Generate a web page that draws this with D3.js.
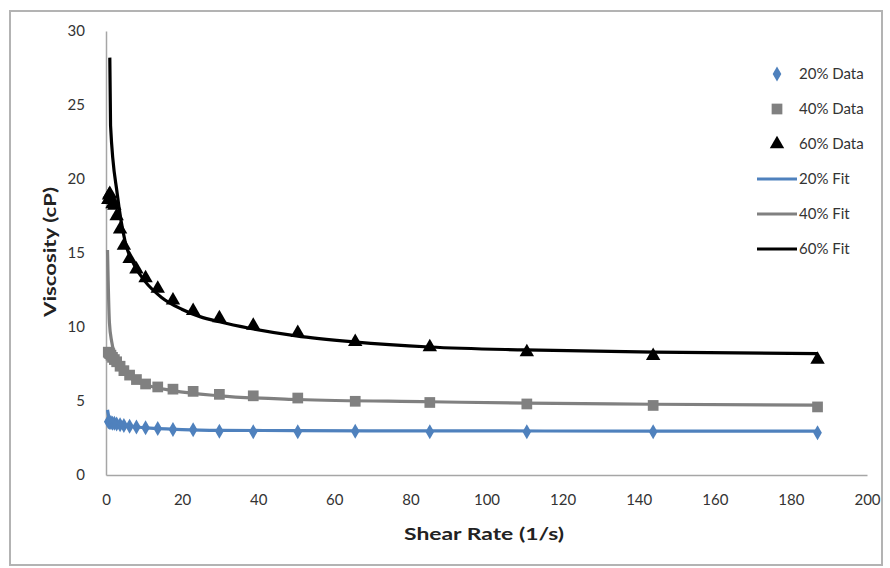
<!DOCTYPE html>
<html><head><meta charset="utf-8">
<script src="https://cdn.jsdelivr.net/npm/d3@7/dist/d3.min.js"></script>
<style>body{margin:0;background:#fff;} svg{display:block;}</style>
</head><body>
<svg id="chart" width="890" height="568"></svg>
<script>
// Shear rate (1/s) for measured data
const shear = [0.6, 0.8, 1.0, 1.3, 1.7, 2.2, 2.8, 3.7, 4.7, 6.2, 8.0, 10.4, 13.6, 17.6, 22.9, 29.8, 38.7, 50.4, 65.5, 85.1, 110.6, 143.8, 187];
const data20 = [3.6, 3.6, 3.55, 3.55, 3.5, 3.5, 3.45, 3.4, 3.35, 3.3, 3.25, 3.2, 3.15, 3.08, 3.05, 2.95, 2.93, 2.93, 2.95, 2.93, 2.93, 2.92, 2.85];
const data40 = [8.3, 8.25, 8.2, 8.1, 7.95, 7.8, 7.65, 7.35, 7.05, 6.75, 6.45, 6.15, 5.95, 5.8, 5.65, 5.45, 5.35, 5.2, 4.98, 4.9, 4.8, 4.7, 4.6];
const data60 = [18.6, 18.9, 19.0, 18.7, 18.3, 18.2, 17.5, 16.6, 15.5, 14.6, 13.9, 13.3, 12.6, 11.8, 11.1, 10.6, 10.1, 9.6, 9.0, 8.65, 8.3, 8.05, 7.8];

// Fit curves
const fit20x = [0.4, 0.8, 1.5, 3, 5, 10, 20, 30, 50, 85, 144, 187];
const fit20y = [4.4, 3.9, 3.7, 3.5, 3.35, 3.2, 3.07, 3.02, 3.0, 2.98, 2.97, 2.96];
const fit40x = [0.4, 0.9, 1.5, 2.2, 3.7, 6.2, 10.4, 17.6, 29.8, 50.4, 85, 110.6, 143.8, 187];
const fit40y = [15.2, 10.3, 9.0, 8.2, 7.3, 6.6, 6.1, 5.7, 5.35, 5.1, 4.95, 4.85, 4.78, 4.72];
const fit60x = [1.0, 1.2, 3.0, 5.0, 7.6, 10.2, 14.6, 19.9, 24.7, 29.8, 38, 50, 65, 85, 110, 144, 187];
const fit60y = [28.2, 23.6, 18.9, 15.8, 14.1, 13.1, 12.0, 11.2, 10.7, 10.35, 9.9, 9.4, 9.0, 8.65, 8.45, 8.3, 8.2];

const xTicks = [0, 20, 40, 60, 80, 100, 120, 140, 160, 180, 200];
const yTicks = [0, 5, 10, 15, 20, 25, 30];
const legendLabels = ["20% Data", "40% Data", "60% Data", "20% Fit", "40% Fit", "60% Fit"];

const C20 = "#4f81bd", C40 = "#808080", C60 = "#000000";
const svg = d3.select("#chart");
const font = "Lato, 'Open Sans', sans-serif";

svg.append("rect").attr("x", 10).attr("y", 11).attr("width", 872).attr("height", 554)
  .attr("fill", "#fff").attr("stroke", "#b3b3b3").attr("stroke-width", 2);

const x = d3.scaleLinear().domain([0, 200]).range([106, 867]);
const y = d3.scaleLinear().domain([0, 30]).range([475, 31]);

// axes
const xAxis = svg.append("g").attr("transform", `translate(0,${y(0)})`)
  .call(d3.axisBottom(x).tickValues(xTicks).tickSize(0).tickPadding(19));
const yAxis = svg.append("g").attr("transform", `translate(${x(0)},0)`)
  .call(d3.axisLeft(y).tickValues(yTicks).tickSize(0).tickPadding(21));
[xAxis, yAxis].forEach(a => {
  a.select(".domain").attr("stroke", "#a6a6a6").attr("stroke-width", 1.5);
  a.selectAll("text").attr("font-family", font).attr("font-size", 15).attr("fill", "#333");
});

svg.append("text").attr("x", 484).attr("y", 540).attr("text-anchor", "middle")
  .attr("font-family", font).attr("font-weight", "bold").attr("font-size", 17).attr("fill", "#222")
  .attr("textLength", 160).attr("lengthAdjust", "spacingAndGlyphs")
  .text("Shear Rate (1/s)");
svg.append("text").attr("transform", "translate(56,252) rotate(-90)").attr("text-anchor", "middle")
  .attr("font-family", font).attr("font-weight", "bold").attr("font-size", 17).attr("fill", "#222")
  .attr("textLength", 130).attr("lengthAdjust", "spacingAndGlyphs")
  .text("Viscosity (cP)");

const line = d3.line().x(d => x(d[0])).y(d => y(d[1])).curve(d3.curveMonotoneX);
const fits = [[fit20x, fit20y, C20], [fit40x, fit40y, C40], [fit60x, fit60y, C60]];

const diamond = d3.symbol().type(d3.symbolDiamond).size(65);
const square = d3.symbol().type(d3.symbolSquare).size(115);
const triangle = d3.symbol().type(d3.symbolTriangle).size(90);

function markers(vals, sym, color) {
  svg.append("g").selectAll("path").data(shear.map((s, i) => [s, vals[i]])).join("path")
    .attr("d", sym).attr("fill", color)
    .attr("transform", d => `translate(${x(d[0])},${y(d[1])})`);
}
markers(data20, diamond, C20);
markers(data40, square, C40);
markers(data60, triangle, C60);

fits.forEach(([fx, fy, c]) => {
  svg.append("path").datum(fx.map((v, i) => [v, fy[i]])).attr("d", line)
    .attr("fill", "none").attr("stroke", c).attr("stroke-width", 3.2).attr("stroke-linejoin", "round");
});

// legend
const lg = svg.append("g");
const syms = [[diamond, C20], [square, C40], [triangle, C60]];
legendLabels.forEach((lab, i) => {
  const yy = 74 + i * 35;
  if (i < 3) {
    lg.append("path").attr("d", syms[i][0]).attr("fill", syms[i][1])
      .attr("transform", `translate(777,${yy})`);
  } else {
    const c = [C20, C40, C60][i - 3];
    lg.append("line").attr("x1", 757).attr("x2", 797).attr("y1", yy).attr("y2", yy)
      .attr("stroke", c).attr("stroke-width", 3.2);
  }
  lg.append("text").attr("x", 799).attr("y", yy).attr("dy", "0.35em")
    .attr("font-family", font).attr("font-size", 15).attr("fill", "#333").text(lab);
});
</script>
</body></html>
